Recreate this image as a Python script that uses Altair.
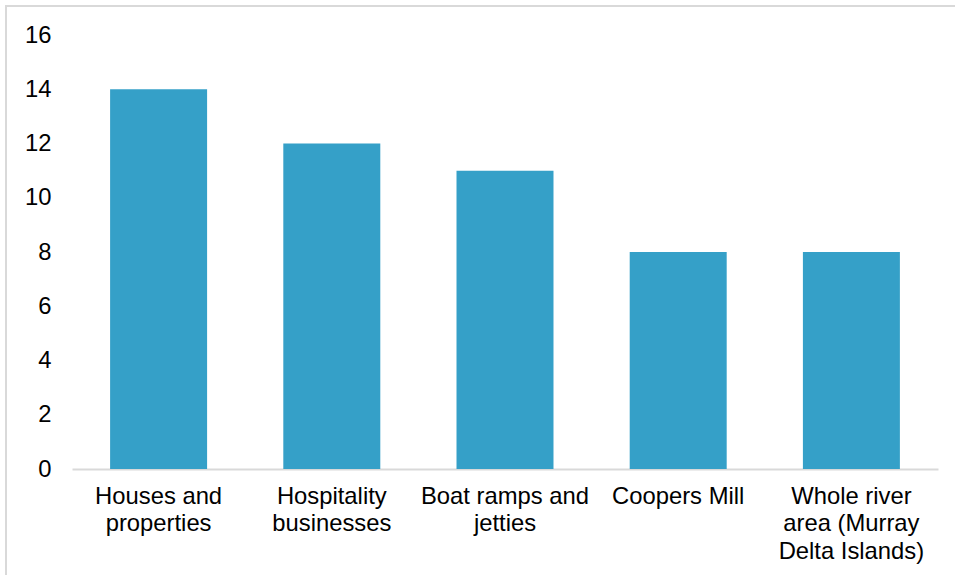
import altair as alt
import pandas as pd

categories = ["Houses and properties", "Hospitality businesses", "Boat ramps and jetties",
              "Coopers Mill", "Whole river area (Murray Delta Islands)"]
label_lines = ["Houses and|properties", "Hospitality|businesses", "Boat ramps and|jetties",
               "Coopers Mill", "Whole river|area (Murray|Delta Islands)"]
values = [14, 12, 11, 8, 8]
y_ticks = [0, 2, 4, 6, 8, 10, 12, 14, 16]

df = pd.DataFrame({"category": categories, "value": values, "label": label_lines})

label_map = "{" + ",".join(f'"{c}": "{l}"' for c, l in zip(categories, label_lines)) + "}"

W, H = 866, 434
LEFT, TOP = 72, 35

bars = alt.Chart(df).mark_bar(color="#35A0C8").encode(
    x=alt.X("category:N", sort=categories, title=None,
            scale=alt.Scale(paddingInner=0.44, paddingOuter=0.22),
            axis=alt.Axis(labelAngle=0, ticks=False, domainColor="#D9D9D9", domainWidth=2,
                          labelFont="Liberation Sans", labelFontSize=23.8, labelColor="#000000",
                          labelPadding=15, labelLineHeight=27.5, labelLimit=300,
                          labelExpr=f"split({label_map}[datum.label], '|')")),
    y=alt.Y("value:Q", title=None,
            scale=alt.Scale(domain=[0, 16], nice=False),
            axis=alt.Axis(values=y_ticks, domain=False, ticks=False, grid=False,
                          labelFont="Liberation Sans", labelFontSize=23.8, labelColor="#000000",
                          labelPadding=21)),
)

border = alt.Chart(pd.DataFrame({"a": [0]})).mark_rect(
    fill=None, stroke="#D9D9D9", strokeWidth=2
).encode(
    x=alt.value(6 - LEFT), x2=alt.value(990 - LEFT),
    y=alt.value(6 - TOP), y2=alt.value(600 - TOP),
)

chart = alt.layer(border, bars).properties(
    width=W, height=H,
    padding={"left": LEFT, "top": TOP, "right": 955 - LEFT - W, "bottom": 575 - TOP - H},
    autosize=alt.AutoSizeParams(type="none"),
    background="#FFFFFF",
).configure_view(stroke=None)

chart.save("out.html", embed_options={"renderer": "svg", "actions": False})
